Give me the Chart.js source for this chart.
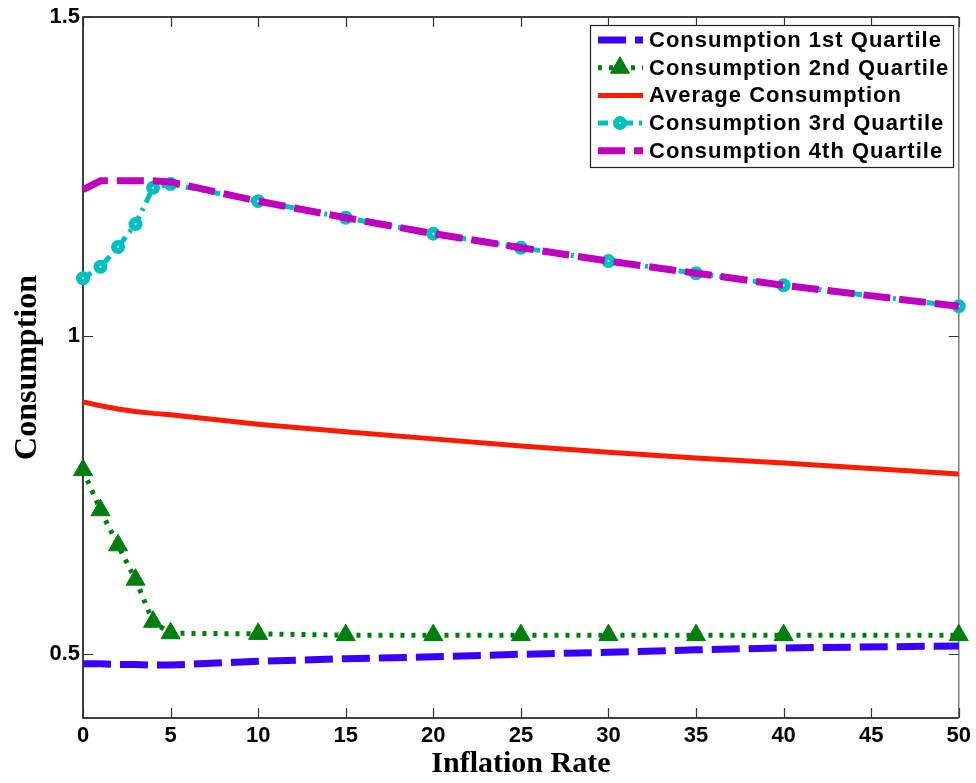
<!DOCTYPE html>
<html>
<head>
<meta charset="utf-8">
<script src="https://cdn.jsdelivr.net/npm/chart.js@4.4.0/dist/chart.umd.min.js"></script>
<style>
  html, body { margin: 0; padding: 0; background: #fff; }
  canvas { display: block; }
</style>
</head>
<body>
<canvas id="chart" width="976" height="783"></canvas>
<script>
// ---- data ----
const inflation = [0, 1, 2, 3, 4, 5, 10, 15, 20, 25, 30, 35, 40, 50];
const q1  = [0.485, 0.485, 0.484, 0.484, 0.483, 0.483, 0.489, 0.493, 0.496, 0.500, 0.503, 0.507, 0.510, 0.513];
const q2  = [0.789, 0.726, 0.671, 0.617, 0.551, 0.533, 0.532, 0.530, 0.530, 0.530, 0.530, 0.530, 0.530, 0.530];
const avg = [0.896, 0.890, 0.885, 0.881, 0.878, 0.876, 0.861, 0.849, 0.838, 0.827, 0.817, 0.808, 0.800, 0.783];
const q3  = [1.090, 1.108, 1.139, 1.175, 1.232, 1.238, 1.211, 1.185, 1.160, 1.138, 1.117, 1.098, 1.079, 1.046];
const q4  = [1.229, 1.243, 1.243, 1.243, 1.243, 1.241, 1.211, 1.185, 1.160, 1.138, 1.117, 1.098, 1.079, 1.046];

const xTicks = [0, 5, 10, 15, 20, 25, 30, 35, 40, 45, 50];
const yTicks = [0.5, 1, 1.5];

const labels = ['Consumption 1st Quartile', 'Consumption 2nd Quartile', 'Average Consumption',
                'Consumption 3rd Quartile', 'Consumption 4th Quartile'];

function pts(vals) {
  return inflation.map((x, i) => ({ x: x, y: vals[i] }));
}

// Box + inward ticks (MATLAB style)
const axesBox = {
  id: 'axesBox',
  beforeDatasetsDraw(chart) {
    const { ctx, chartArea: a, scales: { x, y } } = chart;
    ctx.save();
    ctx.lineWidth = 1.5;
    ctx.strokeStyle = '#000';
    ctx.beginPath();
    ctx.moveTo(a.right, a.top);
    ctx.lineTo(a.left, a.top);
    ctx.lineTo(a.left, a.bottom);
    ctx.lineTo(a.right, a.bottom);
    ctx.stroke();
    ctx.strokeStyle = '#808080';
    ctx.beginPath();
    ctx.moveTo(a.right, a.top);
    ctx.lineTo(a.right, a.bottom);
    ctx.stroke();

    ctx.strokeStyle = '#333';
    ctx.lineWidth = 1.2;
    ctx.beginPath();
    xTicks.forEach(v => {
      const px = Math.round(x.getPixelForValue(v)) + 0.5;
      ctx.moveTo(px, a.bottom); ctx.lineTo(px, a.bottom - 10);
      ctx.moveTo(px, a.top); ctx.lineTo(px, a.top + 10);
    });
    yTicks.forEach(v => {
      const py = Math.round(y.getPixelForValue(v)) + 0.5;
      ctx.moveTo(a.left, py); ctx.lineTo(a.left + 10, py);
      ctx.moveTo(a.right, py); ctx.lineTo(a.right - 10, py);
    });
    ctx.stroke();
    ctx.restore();
  }
};

// Legend drawn by hand so the line samples keep their dash patterns
const lineLegend = {
  id: 'lineLegend',
  afterDatasetsDraw(chart) {
    const ctx = chart.ctx;
    const box = { l: 590, t: 25, r: 953, b: 167 };
    ctx.save();
    ctx.fillStyle = '#fff';
    ctx.fillRect(box.l, box.t, box.r - box.l, box.b - box.t);
    ctx.strokeStyle = '#222';
    ctx.lineWidth = 1.2;
    ctx.strokeRect(box.l + 0.5, box.t + 0.5, box.r - box.l, box.b - box.t);

    chart.data.datasets.forEach((ds, i) => {
      const cy = 40 + i * 27.7;
      ctx.save();
      ctx.strokeStyle = ds.borderColor;
      ctx.lineWidth = ds.borderWidth;
      ctx.setLineDash(ds.borderDash || []);
      ctx.beginPath();
      ctx.moveTo(598, cy);
      ctx.lineTo(643, cy);
      ctx.stroke();
      ctx.restore();
      if (ds.pointRadius > 0) {
        ctx.save();
        ctx.fillStyle = ds.pointBackgroundColor;
        ctx.strokeStyle = ds.pointBorderColor;
        ctx.lineWidth = ds.pointBorderWidth;
        Chart.helpers.drawPoint(ctx, {
          pointStyle: ds.pointStyle, radius: ds.pointRadius,
          borderWidth: ds.pointBorderWidth, rotation: 0
        }, 620, cy);
        ctx.restore();
      }
      ctx.fillStyle = '#000';
      ctx.font = "bold 22px 'Liberation Sans', Arial, sans-serif";
      ctx.letterSpacing = '1px';
      ctx.textAlign = 'left';
      ctx.textBaseline = 'middle';
      ctx.fillText(ds.label, 649, cy + 1);
    });
    ctx.restore();
  }
};

new Chart(document.getElementById('chart'), {
  type: 'line',
  data: {
    datasets: [
      {
        label: labels[0], data: pts(q1), order: 5,
        borderColor: '#3a00ff', borderWidth: 7, borderDash: [28, 9],
        pointRadius: 0
      },
      {
        label: labels[1], data: pts(q2), order: 4,
        borderColor: '#007f0e', borderWidth: 5, borderDash: [4, 7],
        pointStyle: 'triangle', pointRadius: 11, pointBorderWidth: 1,
        pointBackgroundColor: '#007f0e', pointBorderColor: '#007f0e'
      },
      {
        label: labels[2], data: pts(avg), order: 3,
        borderColor: '#ff1a00', borderWidth: 5,
        pointRadius: 0
      },
      {
        label: labels[3], data: pts(q3), order: 2,
        borderColor: '#00bfbf', borderWidth: 5, borderDash: [10, 6, 3, 6],
        pointStyle: 'circle', pointRadius: 4, pointBorderWidth: 6,
        pointBackgroundColor: '#ffffff', pointBorderColor: '#00bfbf'
      },
      {
        label: labels[4], data: pts(q4), order: 1,
        borderColor: '#bf00bf', borderWidth: 7, borderDash: [27, 9],
        pointRadius: 0
      }
    ]
  },
  options: {
    responsive: false,
    animation: false,
    clip: false,
    layout: { padding: { top: 17, right: 16, left: 0, bottom: 0 } },
    elements: { line: { tension: 0, fill: false }, point: { hoverRadius: 0 } },
    plugins: { legend: { display: false }, tooltip: { enabled: false } },
    scales: {
      x: {
        type: 'linear', min: 0, max: 50,
        afterBuildTicks: s => { s.ticks = xTicks.map(v => ({ value: v })); },
        afterFit: s => { s.height = 65; },
        grid: { display: false, drawTicks: false },
        border: { display: false },
        ticks: { color: '#000', font: { family: "'Liberation Sans', Arial, sans-serif", size: 22, weight: 'bold' }, padding: 5, maxRotation: 0 },
        title: {
          display: true, text: 'Inflation Rate', color: '#000',
          font: { family: "'Liberation Serif', 'Times New Roman', serif", size: 30, weight: 'bold', lineHeight: 1.2 },
          padding: { top: 0, bottom: 1 }
        }
      },
      y: {
        min: 0.4, max: 1.5,
        afterBuildTicks: s => { s.ticks = yTicks.map(v => ({ value: v })); },
        afterFit: s => { s.width = 83; },
        grid: { display: false, drawTicks: false },
        border: { display: false },
        ticks: { color: '#000', font: { family: "'Liberation Sans', Arial, sans-serif", size: 22, weight: 'bold' }, padding: 3,
                 callback: v => String(v) },
        title: {
          display: true, text: 'Consumption', color: '#000',
          font: { family: "'Liberation Serif', 'Times New Roman', serif", size: 32, weight: 'bold', lineHeight: 1.2 },
          padding: { top: 9, bottom: 0 }
        }
      }
    }
  },
  plugins: [axesBox, lineLegend]
});
</script>
</body>
</html>
